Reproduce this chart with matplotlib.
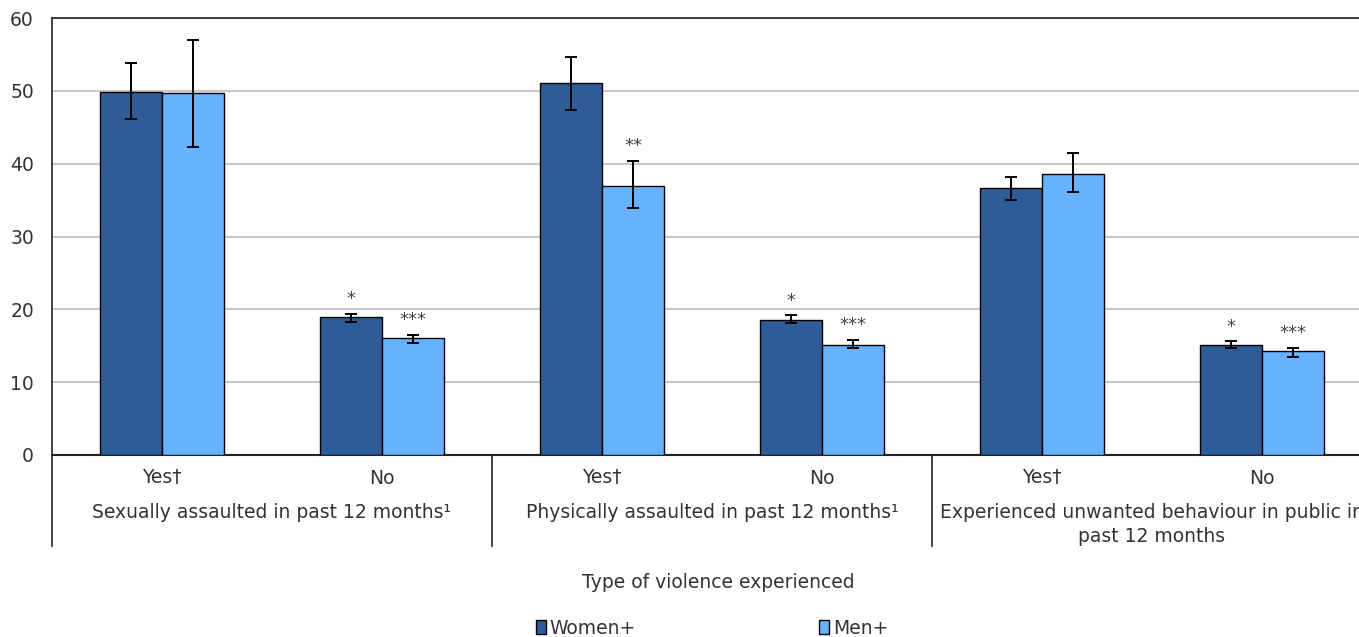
import matplotlib
matplotlib.use("Agg")
import matplotlib.pyplot as plt
import numpy as np
from matplotlib.transforms import blended_transform_factory
from matplotlib.lines import Line2D
from matplotlib.patches import Patch

# ---- data ----
categories = ["Yes\u2020", "No", "Yes\u2020", "No", "Yes\u2020", "No"]
groups = ["Sexually assaulted in past 12 months\u00b9",
          "Physically assaulted in past 12 months\u00b9",
          "Experienced unwanted behaviour in public in\npast 12 months"]
women = [49.9, 18.9, 51.1, 18.5, 36.6, 15.1]
women_lo = [46.1, 18.3, 47.4, 18.1, 35.0, 14.7]
women_hi = [53.8, 19.4, 54.7, 19.2, 38.2, 15.6]
men = [49.7, 16.0, 37.0, 15.1, 38.6, 14.3]
men_lo = [42.3, 15.4, 33.9, 14.7, 36.1, 13.5]
men_hi = [57.0, 16.5, 40.4, 15.8, 41.4, 14.7]
women_sig = ["", "*", "", "*", "", "*"]
men_sig = ["", "***", "**", "***", "", "***"]
yticks = [0, 10, 20, 30, 40, 50, 60]
xlabel = "Type of violence experienced"
series_names = ["Women+", "Men+"]

W, H = 1359, 637
fig = plt.figure(figsize=(W / 100, H / 100), dpi=100)
plt.rcParams['font.family'] = ['DejaVu Sans']
txt = '#333333'
c_w = '#2E5C96'
c_m = '#66B2FF'
fs = 13.5

ax_left, ax_bottom_px, ax_top_px = 52, 455, 18
ax_w_px = 1320
ax = fig.add_axes([ax_left / W, 1 - ax_bottom_px / H, ax_w_px / W, (ax_bottom_px - ax_top_px) / H])

x = np.arange(len(categories))
bw = 0.282
ew = dict(ecolor='black', elinewidth=1.4, capsize=4, capthick=1.4)
ax.bar(x - bw / 2, women, bw, color=c_w, edgecolor='black', linewidth=1.0, zorder=3,
       yerr=[np.array(women) - np.array(women_lo), np.array(women_hi) - np.array(women)],
       error_kw=ew)
ax.bar(x + bw / 2, men, bw, color=c_m, edgecolor='black', linewidth=1.0, zorder=3,
       yerr=[np.array(men) - np.array(men_lo), np.array(men_hi) - np.array(men)],
       error_kw=ew)

for i in range(len(categories)):
    if women_sig[i]:
        ax.annotate(women_sig[i], (x[i] - bw / 2, women_hi[i]), xytext=(0, 4),
                    textcoords='offset points', ha='center', va='bottom',
                    fontsize=13, color='#444444')
    if men_sig[i]:
        ax.annotate(men_sig[i], (x[i] + bw / 2, men_hi[i]), xytext=(0, 4),
                    textcoords='offset points', ha='center', va='bottom',
                    fontsize=13, color='#444444')

ax.set_xlim(-0.5, len(categories) - 0.5)
ax.set_ylim(0, 60)
ax.set_yticks(yticks)
ax.tick_params(axis='y', length=0, pad=13, labelsize=fs, labelcolor=txt)
ax.set_xticks([])
ax.yaxis.grid(True, color='#C8C8C8', linewidth=1.5, zorder=0)
ax.set_axisbelow(True)
for s in ['left', 'top', 'bottom']:
    ax.spines[s].set_color('#222222')
    ax.spines[s].set_linewidth(1.2)
ax.spines['right'].set_visible(False)
ax.spines['bottom'].set_linewidth(1.5)

tr = blended_transform_factory(ax.transData, fig.transFigure)
def fy(py):
    return 1 - py / H

for i, c in enumerate(categories):
    ax.text(x[i], fy(478), c, transform=tr, ha='center', va='center', fontsize=fs, color=txt)
for g, lab in enumerate(groups):
    ax.text(2 * g + 0.5, fy(503), lab, transform=tr, ha='center', va='top', fontsize=fs,
            color=txt, linespacing=1.3)
for xs in [-0.5, 1.5, 3.5, 5.5]:
    ax.add_line(Line2D([xs, xs], [fy(455), fy(546)], transform=tr, color='#222222',
                       linewidth=1.2, clip_on=False))

fig.text(718 / W, fy(582), xlabel, ha='center', va='center', fontsize=fs, color=txt)

handles = [Patch(facecolor=c_w, edgecolor='black', linewidth=1.0),
           Patch(facecolor=c_m, edgecolor='black', linewidth=1.0)]
fig.legend(handles, series_names, loc='center', bbox_to_anchor=(712 / W, fy(628)), ncol=2,
           frameon=False, fontsize=fs, handlelength=0.55, handleheight=0.7,
           handletextpad=0.2, columnspacing=9.75, labelcolor=txt)

fig.savefig('out.png', dpi=100)
